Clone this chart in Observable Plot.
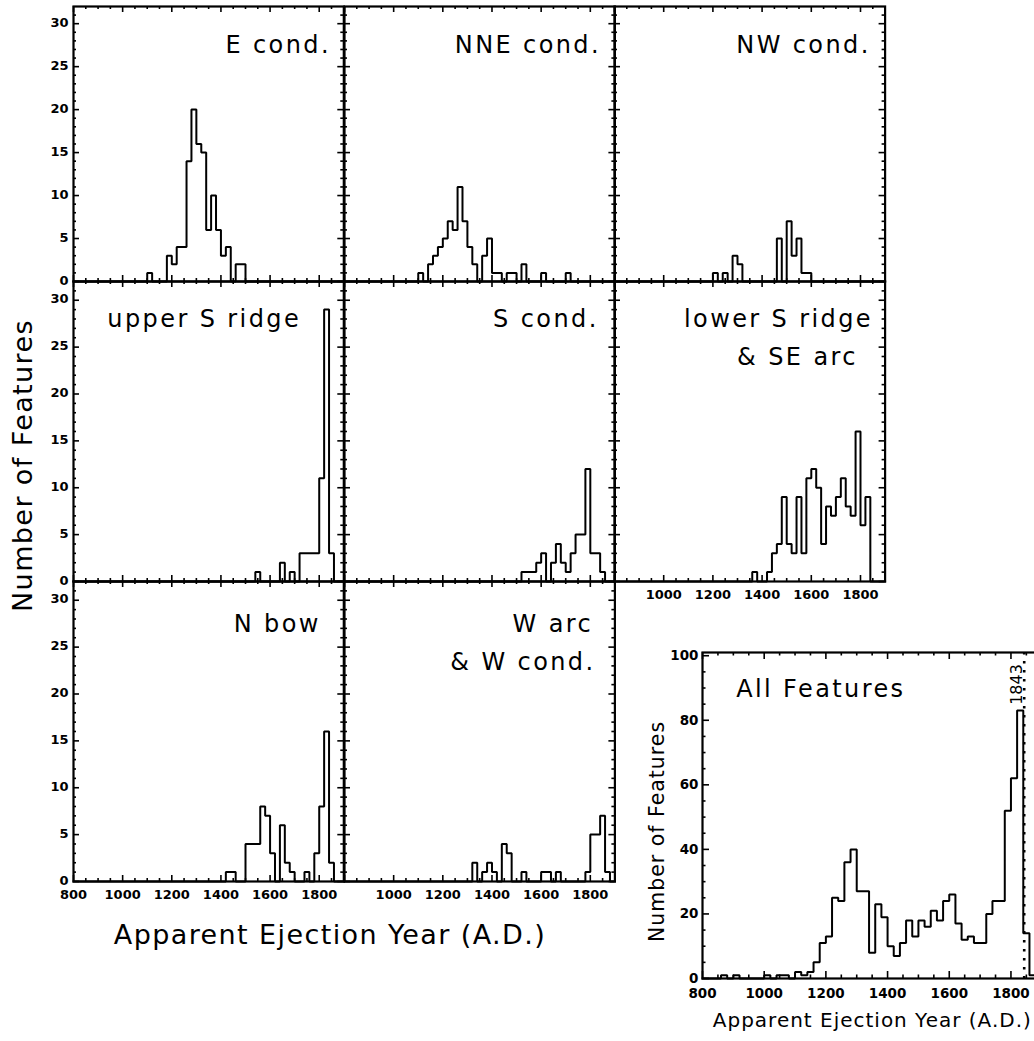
<!DOCTYPE html>
<html>
<head>
<meta charset="utf-8">
<script src="https://cdn.jsdelivr.net/npm/d3@7"></script>
<script src="https://cdn.jsdelivr.net/npm/@observablehq/plot@0.6"></script>
<style>
  html, body { margin: 0; padding: 0; background: #fff; }
  #fig { position: relative; width: 1034px; height: 1041px; overflow: hidden; background: #fff; }
  #fig svg { position: absolute; overflow: visible; max-width: none; }
  g[aria-description="plabel"] text { letter-spacing: 2.4px; }
  g[aria-description="ptitle"] text { letter-spacing: 1px; }
  .ttl { position: absolute; font-family: "DejaVu Sans"; white-space: nowrap; color: #000;
         transform-origin: center center; line-height: 1; }
</style>
</head>
<body>
<div id="fig"></div>
<script>
// ---------------- DATA (20-year bins starting at 800 A.D.; 55 bins: 800..1880) ----------------
const binStarts = d3.range(800, 1900, 20);

//                 800s        900s        1000s       1100s          1200s             1300s            1400s           1500s            1600s            1700s             1800s
const eCond     = [0,0,0,0,0,  0,0,0,0,0,  0,0,0,0,0,  1,0,0,0,3,     2,4,4,14,20,      16,15,6,10,6,    3,4,0,2,2,      0,0,0,0,0,       0,0,0,0,0,       0,0,0,0,0,        0,0,0,0,0];
const nneCond   = [0,0,0,0,0,  0,0,0,0,0,  0,0,0,0,0,  1,0,2,3,4,     5,7,6,11,7,       4,2,0,3,5,       1,1,0,1,1,      0,2,0,0,0,       1,0,0,0,0,       1,0,0,0,0,        0,0,0,0,0];
const nwCond    = [0,0,0,0,0,  0,0,0,0,0,  0,0,0,0,0,  0,0,0,0,0,     1,0,1,0,3,        2,0,0,0,0,       0,0,0,5,0,      7,3,5,1,1,       0,0,0,0,0,       0,0,0,0,0,        0,0,0,0,0];
const upperSRidge=[0,0,0,0,0,  0,0,0,0,0,  0,0,0,0,0,  0,0,0,0,0,     0,0,0,0,0,        0,0,0,0,0,       0,0,0,0,0,      0,0,1,0,0,       0,0,2,0,1,       0,3,3,3,3,        11,29,3,0,0];
const sCond     = [0,0,0,0,0,  0,0,0,0,0,  0,0,0,0,0,  0,0,0,0,0,     0,0,0,0,0,        0,0,0,0,0,       0,0,0,0,0,      0,1,1,1,2,       3,0,2,4,2,       1,3,5,5,12,       3,3,1,0,0];
const lowerSRidge=[0,0,0,0,0,  0,0,0,0,0,  0,0,0,0,0,  0,0,0,0,0,     0,0,0,0,0,        0,0,0,1,0,       0,1,3,4,9,      4,3,9,3,11,      12,10,4,8,7,     9,11,8,7,16,      6,9,0,0,0];
const nBow      = [0,0,0,0,0,  0,0,0,0,0,  0,0,0,0,0,  0,0,0,0,0,     0,0,0,0,0,        0,0,0,0,0,       0,1,1,0,0,      4,4,4,8,7,       3,0,6,2,1,       0,0,1,0,3,        8,16,2,0,0];
const wArc      = [0,0,0,0,0,  0,0,0,0,0,  0,0,0,0,0,  0,0,0,0,0,     0,0,0,0,0,        0,2,0,1,2,       1,0,4,3,0,      0,1,0,0,0,       1,1,0,1,0,       0,0,0,0,1,        5,5,7,1,0];
const allFeatures=[0,0,0,1,0,  1,0,0,0,0,  1,0,1,1,0,  2,1,2,5,11,    13,25,24,36,40,   27,27,8,23,19,   10,7,11,18,13,  18,16,21,18,24,  26,17,12,13,11,  11,20,24,24,52,   62,83,14,1,0];

const panelNames = ["E cond.", "NNE cond.", "NW cond.", "upper S ridge", "S cond.",
                    "lower S ridge|& SE arc", "N bow", "W arc|& W cond."];
const smallYTicks = [0, 5, 10, 15, 20, 25, 30];
const allYTicks = [0, 20, 40, 60, 80, 100];
const xTickLabels = [800, 1000, 1200, 1400, 1600, 1800];
const eruptionYear = [1843];

// ---------------- LAYOUT ----------------
const fig = document.getElementById("fig");
const PAD = 80;
const colEdges = [73.3, 343.6, 614, 884.6];
const rowEdges = [6, 281, 581, 881];

const xMajorTicks = d3.range(800, 1901, 200);
const xMinorTicks = d3.range(800, 1901, 50).filter(d => d % 200 !== 0);

function histData(counts) {
  const pts = binStarts.map((b, i) => ({year: b, count: counts[i]}));
  pts.push({year: 1900, count: counts[counts.length - 1]});
  return pts;
}

function tickMarks(w, h, yMaj, yMin, maj, min) {
  const s = {stroke: "black", strokeWidth: 1.6};
  return [
    Plot.ruleX(xMajorTicks, {x: d => d, insetTop: h - maj, ...s}),
    Plot.ruleX(xMajorTicks, {x: d => d, insetBottom: h - maj, ...s}),
    Plot.ruleX(xMinorTicks, {x: d => d, insetTop: h - min, ...s}),
    Plot.ruleX(xMinorTicks, {x: d => d, insetBottom: h - min, ...s}),
    Plot.ruleY(yMaj, {y: d => d, insetRight: w - maj, ...s}),
    Plot.ruleY(yMaj, {y: d => d, insetLeft: w - maj, ...s}),
    Plot.ruleY(yMin, {y: d => d, insetRight: w - min, ...s}),
    Plot.ruleY(yMin, {y: d => d, insetLeft: w - min, ...s})
  ];
}

function place(svg, x0, y0) {
  svg.style.position = "absolute";
  svg.style.left = (x0 - PAD) + "px";
  svg.style.top = (y0 - PAD) + "px";
  svg.style.maxWidth = "none";
  svg.style.background = "transparent";
  svg.style.overflow = "visible";
  fig.appendChild(svg);
}

function plotPanel({x0, x1, y0, y1, yDomain, counts, yMaj, yMin, maj, min, extra}) {
  const w = x1 - x0, h = y1 - y0;
  const svg = Plot.plot({
    width: w + 2 * PAD, height: h + 2 * PAD,
    marginLeft: PAD, marginRight: PAD, marginTop: PAD, marginBottom: PAD,
    x: {domain: [800, 1900], axis: null},
    y: {domain: yDomain, axis: null},
    style: {fontFamily: "DejaVu Sans", background: "transparent", overflow: "visible", color: "black"},
    marks: [
      ...tickMarks(w, h, yMaj, yMin, maj, min),
      Plot.line(histData(counts), {x: "year", y: "count", curve: "step-after", stroke: "black",
        strokeWidth: 2, strokeLinejoin: "miter", strokeLinecap: "square"}),
      Plot.frame({stroke: "black", strokeWidth: 2.2}),
      ...extra(w, h)
    ]
  });
  place(svg, x0, y0);
}

function panelLabel(text, cx, baseline, x0, y0) {
  return Plot.text([text], {frameAnchor: "top-left", dx: cx - x0, dy: baseline - y0, text: d => d,
    textAnchor: "middle", lineAnchor: "bottom", fontSize: 24, fill: "black", ariaDescription: "plabel"});
}

const smallYMinor = d3.range(0, 32, 1).filter(d => d % 5 !== 0);

// panel specs: series, column, row, label positions (center x, baseline y)
const panels = [
  {counts: eCond,       col: 0, row: 0, labels: [[panelNames[0], 278, 53]]},
  {counts: nneCond,     col: 1, row: 0, labels: [[panelNames[1], 527, 53]]},
  {counts: nwCond,      col: 2, row: 0, labels: [[panelNames[2], 803, 53]]},
  {counts: upperSRidge, col: 0, row: 1, labels: [[panelNames[3], 204, 327]]},
  {counts: sCond,       col: 1, row: 1, labels: [[panelNames[4], 545, 327]]},
  {counts: lowerSRidge, col: 2, row: 1, labels: [[panelNames[5].split("|")[0], 778, 327], [panelNames[5].split("|")[1], 797, 365]], xlab: xTickLabels.slice(1)},
  {counts: nBow,        col: 0, row: 2, labels: [[panelNames[6], 277, 632]], xlab: xTickLabels},
  {counts: wArc,        col: 1, row: 2, labels: [[panelNames[7].split("|")[0], 552, 632], [panelNames[7].split("|")[1], 522, 670]], xlab: xTickLabels.slice(1)}
];

for (const p of panels) {
  const x0 = colEdges[p.col], x1 = colEdges[p.col + 1];
  const y0 = rowEdges[p.row], y1 = rowEdges[p.row + 1];
  plotPanel({
    x0, x1, y0, y1, yDomain: [0, 32], counts: p.counts,
    yMaj: smallYTicks, yMin: smallYMinor, maj: 6, min: 3,
    extra: () => {
      const m = p.labels.map(([t, cx, by]) => panelLabel(t, cx, by, x0, y0));
      if (p.col === 0) {
        m.push(Plot.text(smallYTicks, {y: d => d, text: d => String(d), frameAnchor: "left", dx: -5, dy: -1,
          textAnchor: "end", fontSize: 13, fontWeight: "bold", fill: "black"}));
      }
      if (p.xlab) {
        m.push(Plot.text(p.xlab, {x: d => d, text: d => String(d), frameAnchor: "bottom", dy: 18,
          textAnchor: "middle", fontSize: 13, fontWeight: "bold", fill: "black"}));
      }
      return m;
    }
  });
}

// ---------------- INSET: All Features ----------------
const allYMinor = d3.range(0, 101, 5).filter(d => d % 20 !== 0);
plotPanel({
  x0: 701.7, x1: 1041, y0: 652, y1: 978, yDomain: [0, 101], counts: allFeatures,
  yMaj: allYTicks, yMin: allYMinor, maj: 7, min: 3.5,
  extra: (w, h) => [
    Plot.ruleX(eruptionYear, {x: d => d, stroke: "black", strokeWidth: 2.6, strokeDasharray: "2.6,6.4"}),
    Plot.text(eruptionYear, {x: d => d, text: d => String(d), frameAnchor: "top", dy: 32, dx: -14,
      rotate: -90, textAnchor: "middle", fontSize: 16, fill: "black"}),
    Plot.text(["All Features"], {frameAnchor: "top-left", dx: 820 - 701.7, dy: 697 - 652, text: d => d,
      textAnchor: "middle", lineAnchor: "bottom", fontSize: 24, fill: "black", ariaDescription: "plabel"}),
    Plot.text(allYTicks, {y: d => d, text: d => String(d), frameAnchor: "left", dx: -4,
      textAnchor: "end", fontSize: 13.5, fontWeight: "bold", fill: "black"}),
    Plot.text(xTickLabels, {x: d => d, text: d => String(d), frameAnchor: "bottom", dy: 20,
      textAnchor: "middle", fontSize: 13.5, fontWeight: "bold", fill: "black"}),
    Plot.text(["Number of Features"], {frameAnchor: "left", dx: 657 - 701.7, dy: 831 - (652 + 978) / 2,
      rotate: -90, text: d => d, textAnchor: "middle", fontSize: 20.5, fill: "black", ariaDescription: "ptitle"}),
    Plot.text(["Apparent Ejection Year (A.D.)"], {frameAnchor: "bottom-left", dx: 871.5 - 701.7, dy: 1027 - 978,
      text: d => d, textAnchor: "middle", fontSize: 20, fill: "black", ariaDescription: "ptitle"})
  ]
});

// ---------------- main axis titles ----------------
function title(txt, cx, cy, size, ls, rot) {
  const d = document.createElement("div");
  d.className = "ttl";
  d.textContent = txt;
  d.style.fontSize = size + "px";
  d.style.letterSpacing = ls + "px";
  fig.appendChild(d);
  const r = d.getBoundingClientRect();
  d.style.left = (cx - r.width / 2) + "px";
  d.style.top = (cy - r.height / 2) + "px";
  if (rot) d.style.transform = `rotate(${rot}deg)`;
}
title("Number of Features", 22, 465, 27, 1.4, -90);
title("Apparent Ejection Year (A.D.)", 330, 934, 27, 1.4, 0);
</script>
</body>
</html>
